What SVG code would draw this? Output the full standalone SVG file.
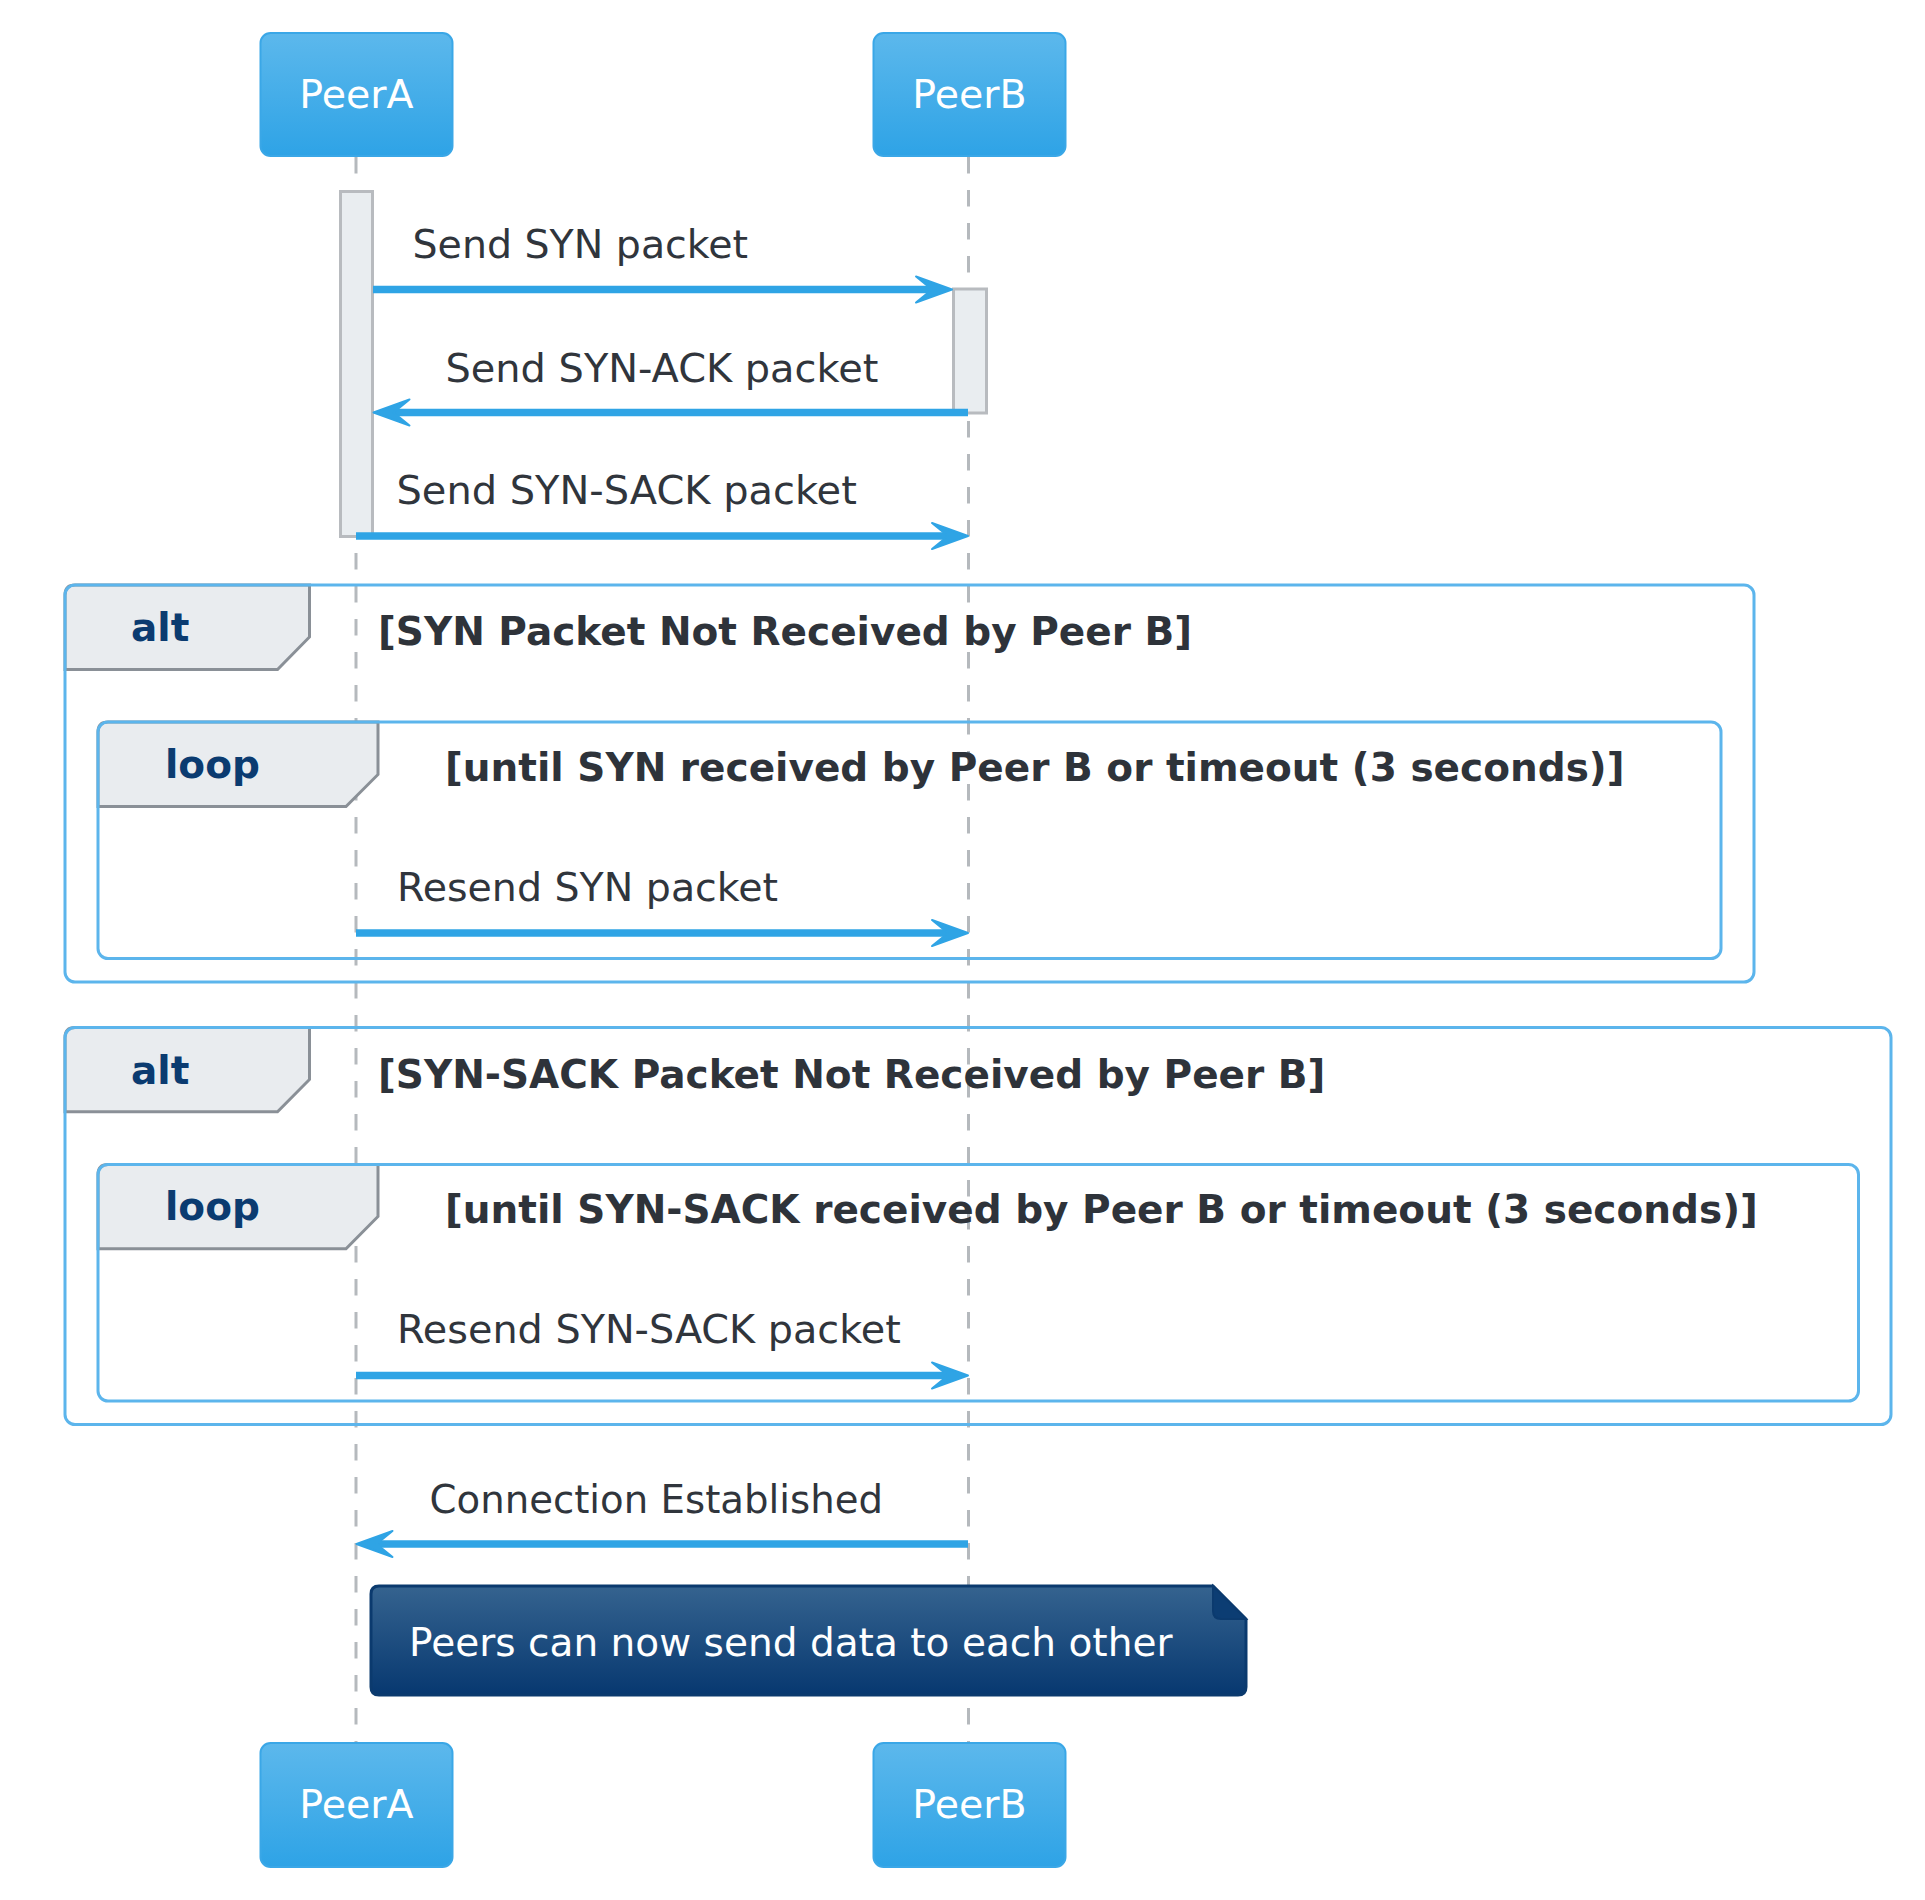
<svg xmlns="http://www.w3.org/2000/svg" width="1925" height="1900" viewBox="0 0 1925 1900">
<defs>
<linearGradient id="pg" x1="0" y1="0" x2="0" y2="1"><stop offset="0" stop-color="#5cb8ec"/><stop offset="1" stop-color="#2ea3e6"/></linearGradient>
<linearGradient id="ng" x1="0" y1="0" x2="0" y2="1"><stop offset="0" stop-color="#35638f"/><stop offset="1" stop-color="#073870"/></linearGradient>
<marker id="ah" viewBox="-20 -16 60 32" refX="0" refY="0" markerWidth="60" markerHeight="32" markerUnits="userSpaceOnUse" orient="auto">
<path d="M20,0 L-16,-13 L0,0 L-16,13 Z" fill="#2fa4e5" stroke="#2fa4e5" stroke-width="2" stroke-linejoin="round"/>
</marker>
<style>
.pbox{fill:url(#pg);stroke:#3aa7e7;stroke-width:2}
.ptxt{font-family:"DejaVu Sans",Verdana,sans-serif;font-size:39.5px;fill:#ffffff;text-anchor:middle}
.life{stroke:#b5b9bd;stroke-width:3;stroke-dasharray:16.5,16.5}
.act{fill:#e9edf0;stroke:#b8bbbf;stroke-width:3}
.msg{stroke:#2fa4e5;stroke-width:7.5;fill:none;marker-end:url(#ah)}
.mtxt{font-family:"DejaVu Sans",Verdana,sans-serif;font-size:39.5px;fill:#30353c}
.frame{fill:none;stroke:#5cb5ec;stroke-width:3}
.tab{fill:#e9ecef;stroke:#8a9097;stroke-width:3}
.gname{font-family:"DejaVu Sans",Verdana,sans-serif;font-size:39px;font-weight:bold;fill:#0b3b70}
.gcond{font-family:"DejaVu Sans",Verdana,sans-serif;font-size:39px;font-weight:bold;fill:#2e333a}
.note{fill:url(#ng);stroke:#0b3a6e;stroke-width:3}
.fold{fill:#0c3d73;stroke:#0b3a6e;stroke-width:2}
.ntxt{font-family:"DejaVu Sans",Verdana,sans-serif;font-size:39.5px;fill:#ffffff}
</style>
</defs>
<rect width="1925" height="1900" fill="#ffffff"/>

<g id="lifelines">
<line class="life" x1="356" y1="157" x2="356" y2="1742"/>
<line class="life" x1="968.5" y1="157" x2="968.5" y2="1742"/>
</g>

<g id="alt1">
<path class="tab" d="M65,669.5 L65,595 Q65,585 75,585 L309.5,585 L309.5,637 L277.5,669.5 Z"/>
<rect class="frame" x="65" y="585" width="1689" height="397" rx="10"/>
<text class="gname" x="131" y="641">alt</text>
<text class="gcond" x="378" y="645">[SYN Packet Not Received by Peer B]</text>
</g>
<g id="loop1">
<path class="tab" d="M98,806.5 L98,732 Q98,722 108,722 L378,722 L378,774.5 L346,806.5 Z"/>
<rect class="frame" x="98" y="722" width="1623" height="236.5" rx="10"/>
<text class="gname" x="165" y="777.5">loop</text>
<text class="gcond" x="445" y="781">[until SYN received by Peer B or timeout (3 seconds)]</text>
</g>
<g id="alt2">
<path class="tab" d="M65,1111.7 L65,1037.5 Q65,1027.5 75,1027.5 L309.5,1027.5 L309.5,1079.5 L277.5,1111.7 Z"/>
<rect class="frame" x="65" y="1027.5" width="1826" height="397" rx="10"/>
<text class="gname" x="131" y="1083.5">alt</text>
<text class="gcond" x="378" y="1087.5">[SYN-SACK Packet Not Received by Peer B]</text>
</g>
<g id="loop2">
<path class="tab" d="M98,1248.7 L98,1174.5 Q98,1164.5 108,1164.5 L378,1164.5 L378,1216.5 L346,1248.7 Z"/>
<rect class="frame" x="98" y="1164.5" width="1760.5" height="236.5" rx="10"/>
<text class="gname" x="165" y="1219.5">loop</text>
<text class="gcond" x="445" y="1223">[until SYN-SACK received by Peer B or timeout (3 seconds)]</text>
</g>

<g id="activations">
<rect id="actA" class="act" x="340.5" y="191.5" width="32" height="345"/>
<rect id="actB" class="act" x="953.5" y="289" width="33" height="124"/>
</g>

<g id="connectors">
<line class="msg" x1="373" y1="289.5" x2="932" y2="289.5"/>
<text class="mtxt" x="412.5" y="258.3">Send SYN packet</text>
<line class="msg" x1="968" y1="412.5" x2="393.5" y2="412.5"/>
<text class="mtxt" x="445.5" y="381.5" textLength="432.8" lengthAdjust="spacingAndGlyphs">Send SYN-ACK packet</text>
<line class="msg" x1="356" y1="536" x2="948" y2="536"/>
<text class="mtxt" x="396.5" y="503.8" textLength="460.3" lengthAdjust="spacingAndGlyphs">Send SYN-SACK packet</text>
<line class="msg" x1="356" y1="933" x2="948" y2="933"/>
<text class="mtxt" x="397" y="900.5">Resend SYN packet</text>
<line class="msg" x1="356" y1="1375.5" x2="948" y2="1375.5"/>
<text class="mtxt" x="397" y="1343" textLength="503.8" lengthAdjust="spacingAndGlyphs">Resend SYN-SACK packet</text>
<line class="msg" x1="968" y1="1544" x2="376.5" y2="1544"/>
<text class="mtxt" x="429.5" y="1512.5" textLength="453.5" lengthAdjust="spacingAndGlyphs">Connection Established</text>
</g>

<g id="note">
<path class="note" d="M379,1586 L1213,1586 L1246,1619 L1246,1687 Q1246,1695 1238,1695 L379,1695 Q371,1695 371,1687 L371,1594 Q371,1586 379,1586 Z"/>
<path class="fold" d="M1213,1586 L1213,1611 Q1213,1619 1221,1619 L1246,1619 Z"/>
<text class="ntxt" x="409" y="1655.5" textLength="763.5" lengthAdjust="spacingAndGlyphs">Peers can now send data to each other</text>
</g>

<g id="PeerA">
<rect class="pbox" x="260.5" y="33" width="192" height="123" rx="10"/>
<text class="ptxt" x="356.5" y="108">PeerA</text>
</g>
<g id="PeerB">
<rect class="pbox" x="873.5" y="33" width="192" height="123" rx="10"/>
<text class="ptxt" x="969.5" y="108">PeerB</text>
</g>
<g id="PeerA_bottom">
<rect class="pbox" x="260.5" y="1743" width="192" height="124" rx="10"/>
<text class="ptxt" x="356.5" y="1818">PeerA</text>
</g>
<g id="PeerB_bottom">
<rect class="pbox" x="873.5" y="1743" width="192" height="124" rx="10"/>
<text class="ptxt" x="969.5" y="1818">PeerB</text>
</g>
</svg>
